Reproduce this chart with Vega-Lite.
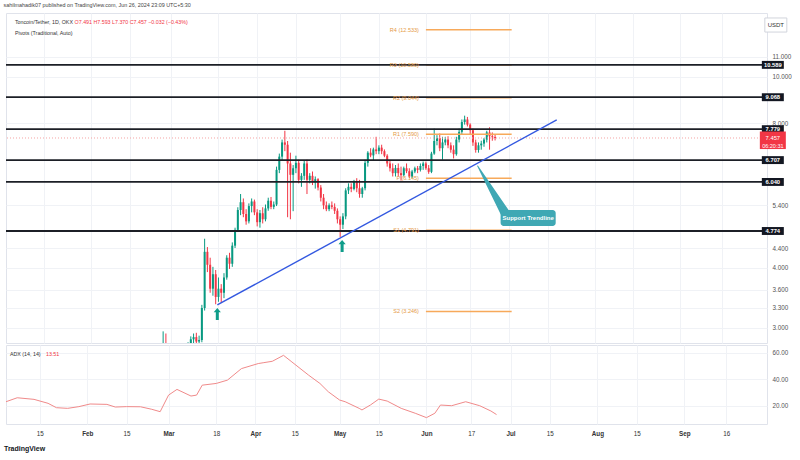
{
  "$schema": "https://vega.github.io/schema/vega-lite/v6.json",
  "background": "white",
  "padding": {"left": 3, "top": 3, "right": 0, "bottom": 0},
  "spacing": 0,
  "config": {
    "font": "Liberation Sans",
    "view": {"stroke": "#e0e3eb", "strokeWidth": 1},
    "axis": {"gridColor": "#f0f2f6", "gridWidth": 1, "labelFont": "Liberation Sans"},
    "title": {"font": "Liberation Sans"}
  },
  "title": {"text": "sahilmahadik07 published on TradingView.com, Jun 26, 2024 23:09 UTC+5:30", "anchor": "start", "fontSize": 5.4, "fontWeight": "normal", "color": "#444444", "offset": 4},
  "datasets": {
    "candles": [
      {"d":"2024-02-26","o":2.20,"h":2.34,"l":2.16,"c":2.30},
      {"d":"2024-02-27","o":2.30,"h":2.95,"l":2.26,"c":2.52},
      {"d":"2024-02-28","o":2.52,"h":2.92,"l":2.35,"c":2.48},
      {"d":"2024-02-29","o":2.48,"h":2.66,"l":2.38,"c":2.55},
      {"d":"2024-03-01","o":2.55,"h":2.74,"l":2.48,"c":2.62},
      {"d":"2024-03-02","o":2.62,"h":2.70,"l":2.52,"c":2.58},
      {"d":"2024-03-03","o":2.58,"h":2.68,"l":2.50,"c":2.64},
      {"d":"2024-03-04","o":2.64,"h":2.75,"l":2.45,"c":2.52},
      {"d":"2024-03-05","o":2.52,"h":2.70,"l":2.30,"c":2.60},
      {"d":"2024-03-06","o":2.60,"h":2.76,"l":2.55,"c":2.72},
      {"d":"2024-03-07","o":2.72,"h":2.80,"l":2.62,"c":2.74},
      {"d":"2024-03-08","o":2.74,"h":2.88,"l":2.68,"c":2.84},
      {"d":"2024-03-09","o":2.84,"h":2.92,"l":2.78,"c":2.87},
      {"d":"2024-03-10","o":2.87,"h":2.93,"l":2.79,"c":2.81},
      {"d":"2024-03-11","o":2.81,"h":2.89,"l":2.72,"c":2.83},
      {"d":"2024-03-12","o":2.83,"h":3.35,"l":2.80,"c":3.30},
      {"d":"2024-03-13","o":3.30,"h":4.60,"l":3.26,"c":4.32},
      {"d":"2024-03-14","o":4.32,"h":4.42,"l":3.92,"c":4.06},
      {"d":"2024-03-15","o":4.06,"h":4.20,"l":3.55,"c":3.62},
      {"d":"2024-03-16","o":3.62,"h":4.02,"l":3.50,"c":3.88},
      {"d":"2024-03-17","o":3.88,"h":3.96,"l":3.36,"c":3.48},
      {"d":"2024-03-18","o":3.48,"h":3.82,"l":3.40,"c":3.62},
      {"d":"2024-03-19","o":3.62,"h":3.70,"l":3.38,"c":3.55},
      {"d":"2024-03-20","o":3.55,"h":3.90,"l":3.46,"c":3.82},
      {"d":"2024-03-21","o":3.82,"h":4.25,"l":3.78,"c":4.20},
      {"d":"2024-03-22","o":4.20,"h":4.30,"l":3.98,"c":4.08},
      {"d":"2024-03-23","o":4.08,"h":4.52,"l":4.02,"c":4.45},
      {"d":"2024-03-24","o":4.45,"h":4.85,"l":4.40,"c":4.80},
      {"d":"2024-03-25","o":4.80,"h":5.35,"l":4.75,"c":5.28},
      {"d":"2024-03-26","o":5.28,"h":5.70,"l":5.15,"c":5.48},
      {"d":"2024-03-27","o":5.48,"h":5.58,"l":5.10,"c":5.18},
      {"d":"2024-03-28","o":5.18,"h":5.30,"l":4.92,"c":5.00},
      {"d":"2024-03-29","o":5.00,"h":5.45,"l":4.95,"c":5.38},
      {"d":"2024-03-30","o":5.38,"h":5.58,"l":5.22,"c":5.50},
      {"d":"2024-03-31","o":5.50,"h":5.55,"l":5.15,"c":5.22},
      {"d":"2024-04-01","o":5.22,"h":5.30,"l":4.88,"c":4.98},
      {"d":"2024-04-02","o":4.98,"h":5.28,"l":4.85,"c":5.20},
      {"d":"2024-04-03","o":5.20,"h":5.35,"l":4.95,"c":5.05},
      {"d":"2024-04-04","o":5.05,"h":5.42,"l":5.00,"c":5.32},
      {"d":"2024-04-05","o":5.32,"h":5.60,"l":5.26,"c":5.52},
      {"d":"2024-04-06","o":5.52,"h":5.62,"l":5.30,"c":5.36},
      {"d":"2024-04-07","o":5.36,"h":5.50,"l":5.30,"c":5.42},
      {"d":"2024-04-08","o":5.42,"h":6.50,"l":5.38,"c":6.40},
      {"d":"2024-04-09","o":6.40,"h":6.92,"l":6.30,"c":6.82},
      {"d":"2024-04-10","o":6.82,"h":7.40,"l":6.70,"c":7.30},
      {"d":"2024-04-11","o":7.30,"h":7.72,"l":7.00,"c":7.22},
      {"d":"2024-04-12","o":7.22,"h":7.35,"l":5.10,"c":6.60},
      {"d":"2024-04-13","o":6.60,"h":6.95,"l":5.05,"c":6.25},
      {"d":"2024-04-14","o":6.25,"h":6.55,"l":5.25,"c":6.45},
      {"d":"2024-04-15","o":6.45,"h":6.85,"l":6.30,"c":6.62},
      {"d":"2024-04-16","o":6.62,"h":6.72,"l":6.00,"c":6.10},
      {"d":"2024-04-17","o":6.10,"h":6.30,"l":5.90,"c":6.22},
      {"d":"2024-04-18","o":6.22,"h":6.70,"l":6.10,"c":6.60},
      {"d":"2024-04-19","o":6.60,"h":6.72,"l":5.70,"c":6.10},
      {"d":"2024-04-20","o":6.10,"h":6.30,"l":6.00,"c":6.22},
      {"d":"2024-04-21","o":6.22,"h":6.35,"l":5.95,"c":6.02},
      {"d":"2024-04-22","o":6.02,"h":6.20,"l":5.85,"c":6.12},
      {"d":"2024-04-23","o":6.12,"h":6.15,"l":5.80,"c":5.88},
      {"d":"2024-04-24","o":5.88,"h":5.95,"l":5.50,"c":5.60},
      {"d":"2024-04-25","o":5.60,"h":5.70,"l":5.30,"c":5.40},
      {"d":"2024-04-26","o":5.40,"h":5.50,"l":5.25,"c":5.30},
      {"d":"2024-04-27","o":5.30,"h":5.45,"l":5.25,"c":5.40},
      {"d":"2024-04-28","o":5.40,"h":5.50,"l":5.30,"c":5.36},
      {"d":"2024-04-29","o":5.36,"h":5.45,"l":5.18,"c":5.26},
      {"d":"2024-04-30","o":5.26,"h":5.32,"l":4.95,"c":5.05},
      {"d":"2024-05-01","o":5.05,"h":5.12,"l":4.64,"c":4.92},
      {"d":"2024-05-02","o":4.92,"h":5.20,"l":4.82,"c":5.12},
      {"d":"2024-05-03","o":5.12,"h":5.86,"l":5.05,"c":5.80},
      {"d":"2024-05-04","o":5.80,"h":6.00,"l":5.70,"c":5.90},
      {"d":"2024-05-05","o":5.90,"h":6.00,"l":5.75,"c":5.84},
      {"d":"2024-05-06","o":5.84,"h":6.10,"l":5.80,"c":6.04},
      {"d":"2024-05-07","o":6.04,"h":6.15,"l":5.75,"c":5.86},
      {"d":"2024-05-08","o":5.86,"h":6.10,"l":5.60,"c":5.70},
      {"d":"2024-05-09","o":5.70,"h":5.90,"l":5.60,"c":5.86},
      {"d":"2024-05-10","o":5.86,"h":6.72,"l":5.80,"c":6.62},
      {"d":"2024-05-11","o":6.62,"h":7.00,"l":6.50,"c":6.95},
      {"d":"2024-05-12","o":6.95,"h":7.10,"l":6.80,"c":6.86},
      {"d":"2024-05-13","o":6.86,"h":7.12,"l":6.70,"c":7.06},
      {"d":"2024-05-14","o":7.06,"h":7.50,"l":6.90,"c":7.00},
      {"d":"2024-05-15","o":7.00,"h":7.20,"l":6.90,"c":7.12},
      {"d":"2024-05-16","o":7.12,"h":7.22,"l":6.90,"c":7.00},
      {"d":"2024-05-17","o":7.00,"h":7.06,"l":6.80,"c":6.85},
      {"d":"2024-05-18","o":6.85,"h":6.90,"l":6.50,"c":6.60},
      {"d":"2024-05-19","o":6.60,"h":6.70,"l":6.35,"c":6.45},
      {"d":"2024-05-20","o":6.45,"h":6.60,"l":6.20,"c":6.30},
      {"d":"2024-05-21","o":6.30,"h":6.55,"l":6.20,"c":6.46},
      {"d":"2024-05-22","o":6.46,"h":6.60,"l":6.20,"c":6.30},
      {"d":"2024-05-23","o":6.30,"h":6.50,"l":6.08,"c":6.24},
      {"d":"2024-05-24","o":6.24,"h":6.50,"l":6.20,"c":6.45},
      {"d":"2024-05-25","o":6.45,"h":6.60,"l":6.30,"c":6.36},
      {"d":"2024-05-26","o":6.36,"h":6.45,"l":6.15,"c":6.20},
      {"d":"2024-05-27","o":6.20,"h":6.40,"l":6.15,"c":6.35},
      {"d":"2024-05-28","o":6.35,"h":6.50,"l":6.30,"c":6.45},
      {"d":"2024-05-29","o":6.45,"h":6.52,"l":6.30,"c":6.40},
      {"d":"2024-05-30","o":6.40,"h":6.60,"l":6.35,"c":6.52},
      {"d":"2024-05-31","o":6.52,"h":6.66,"l":6.40,"c":6.60},
      {"d":"2024-06-01","o":6.60,"h":6.66,"l":6.40,"c":6.45},
      {"d":"2024-06-02","o":6.45,"h":6.55,"l":6.28,"c":6.34},
      {"d":"2024-06-03","o":6.34,"h":6.98,"l":6.30,"c":6.92},
      {"d":"2024-06-04","o":6.92,"h":7.80,"l":6.88,"c":7.35},
      {"d":"2024-06-05","o":7.35,"h":7.56,"l":7.20,"c":7.45},
      {"d":"2024-06-06","o":7.45,"h":7.62,"l":7.00,"c":7.10},
      {"d":"2024-06-07","o":7.10,"h":7.50,"l":6.72,"c":7.30},
      {"d":"2024-06-08","o":7.30,"h":7.50,"l":7.20,"c":7.40},
      {"d":"2024-06-09","o":7.40,"h":7.52,"l":7.10,"c":7.20},
      {"d":"2024-06-10","o":7.20,"h":7.30,"l":6.95,"c":7.05},
      {"d":"2024-06-11","o":7.05,"h":7.20,"l":6.76,"c":6.90},
      {"d":"2024-06-12","o":6.90,"h":7.50,"l":6.85,"c":7.40},
      {"d":"2024-06-13","o":7.40,"h":7.80,"l":7.30,"c":7.68},
      {"d":"2024-06-14","o":7.68,"h":8.15,"l":7.60,"c":8.05},
      {"d":"2024-06-15","o":8.05,"h":8.30,"l":7.95,"c":8.15},
      {"d":"2024-06-16","o":8.15,"h":8.25,"l":7.88,"c":7.95},
      {"d":"2024-06-17","o":7.95,"h":8.00,"l":7.60,"c":7.74},
      {"d":"2024-06-18","o":7.74,"h":7.80,"l":7.18,"c":7.30},
      {"d":"2024-06-19","o":7.30,"h":7.40,"l":6.95,"c":7.04},
      {"d":"2024-06-20","o":7.04,"h":7.30,"l":6.95,"c":7.20},
      {"d":"2024-06-21","o":7.20,"h":7.36,"l":7.05,"c":7.26},
      {"d":"2024-06-22","o":7.26,"h":7.46,"l":7.15,"c":7.40},
      {"d":"2024-06-23","o":7.40,"h":7.72,"l":7.30,"c":7.66},
      {"d":"2024-06-24","o":7.66,"h":7.85,"l":7.05,"c":7.52},
      {"d":"2024-06-25","o":7.52,"h":7.66,"l":7.36,"c":7.49},
      {"d":"2024-06-26","o":7.491,"h":7.593,"l":7.370,"c":7.457}
    ],
    "adx": [
      {"d":"2024-01-03","v":23.2},{"d":"2024-01-07","v":26.2},{"d":"2024-01-13","v":25.0},
      {"d":"2024-01-18","v":22.0},{"d":"2024-01-21","v":18.7},{"d":"2024-01-25","v":18.2},
      {"d":"2024-01-29","v":19.5},{"d":"2024-02-02","v":21.5},{"d":"2024-02-08","v":21.2},
      {"d":"2024-02-11","v":19.2},{"d":"2024-02-15","v":19.5},{"d":"2024-02-20","v":19.4},
      {"d":"2024-02-24","v":17.5},{"d":"2024-02-27","v":15.7},{"d":"2024-03-01","v":28.2},
      {"d":"2024-03-04","v":32.5},{"d":"2024-03-09","v":27.5},{"d":"2024-03-11","v":28.2},
      {"d":"2024-03-13","v":35.7},{"d":"2024-03-18","v":37.0},{"d":"2024-03-22","v":39.5},
      {"d":"2024-03-27","v":48.2},{"d":"2024-04-02","v":52.0},{"d":"2024-04-04","v":52.7},
      {"d":"2024-04-07","v":53.7},{"d":"2024-04-11","v":58.2},{"d":"2024-04-14","v":53.2},
      {"d":"2024-04-20","v":43.2},{"d":"2024-04-24","v":37.0},{"d":"2024-04-27","v":30.7},
      {"d":"2024-05-01","v":24.5},{"d":"2024-05-03","v":23.2},{"d":"2024-05-08","v":18.2},
      {"d":"2024-05-09","v":17.0},{"d":"2024-05-12","v":20.7},{"d":"2024-05-15","v":25.2},
      {"d":"2024-05-18","v":23.7},{"d":"2024-05-23","v":18.2},{"d":"2024-05-28","v":14.5},
      {"d":"2024-06-01","v":11.2},{"d":"2024-06-04","v":14.5},{"d":"2024-06-06","v":20.7},
      {"d":"2024-06-10","v":20.2},{"d":"2024-06-15","v":23.2},{"d":"2024-06-20","v":20.2},
      {"d":"2024-06-24","v":16.2},{"d":"2024-06-26","v":13.51}
    ],
    "levels": [
      {"v":10.589,"label":"10.589"},{"v":9.068,"label":"9.068"},{"v":7.779,"label":"7.779"},
      {"v":6.707,"label":"6.707"},{"v":6.04,"label":"6.040"},{"v":4.774,"label":"4.774"}
    ],
    "pivots": [
      {"v":12.533,"label":"R4 (12.533)"},{"v":10.58,"label":"R3 (10.580)"},{"v":9.044,"label":"R2 (9.044)"},
      {"v":7.59,"label":"R1 (7.590)"},{"v":6.145,"label":"P (6.145)"},{"v":4.791,"label":"S1 (4.791)"},
      {"v":3.246,"label":"S2 (3.246)"}
    ],
    "trend": [{"d":"2024-03-17T14:00:00Z","p":3.348},{"d":"2024-07-18T07:00:00Z","p":8.13}],
    "arrows": [{"d":"2024-03-17T14:00:00Z","p":3.206},{"d":"2024-05-01T17:00:00Z","p":4.44}],
    "pointer": [{"d":"2024-06-19T17:00:00Z","p":6.52,"end":"tip"},{"d":"2024-06-29T10:00:00Z","p":5.23,"end":"base"}],
    "callout": [{"d":"2024-06-28T00:00:00Z","d2":"2024-07-17T22:00:00Z","p":5.28,"p2":4.89,"dm":"2024-07-07T23:00:00Z","pm":5.08,"text":"Support Trendline"}],
    "last": [{"v":7.457,"t1":"7.457","t2":"06:20:31"}]
  },
  "vconcat": [
    {
      "width": 761,
      "height": 330,
      "layer": [
        {
          "data": {"name": "candles"},
          "mark": {"type": "rule", "strokeWidth": 1, "clip": true},
          "encoding": {
            "x": {"field": "d", "type": "temporal",
              "scale": {"domain": [{"year":2024,"month":1,"date":3,"utc":true},{"year":2024,"month":9,"date":30,"hours":12,"utc":true}]},
              "axis": {"labels": false, "ticks": false, "domain": false, "title": null, "grid": true, "gridColor": "#f0f2f6",
                "values": [{"year":2024,"month":1,"date":15,"utc":true},{"year":2024,"month":2,"date":1,"utc":true},{"year":2024,"month":2,"date":15,"utc":true},{"year":2024,"month":3,"date":1,"utc":true},{"year":2024,"month":3,"date":18,"utc":true},{"year":2024,"month":4,"date":1,"utc":true},{"year":2024,"month":4,"date":15,"utc":true},{"year":2024,"month":5,"date":1,"utc":true},{"year":2024,"month":5,"date":15,"utc":true},{"year":2024,"month":6,"date":1,"utc":true},{"year":2024,"month":6,"date":17,"utc":true},{"year":2024,"month":7,"date":1,"utc":true},{"year":2024,"month":7,"date":15,"utc":true},{"year":2024,"month":8,"date":1,"utc":true},{"year":2024,"month":8,"date":15,"utc":true},{"year":2024,"month":9,"date":1,"utc":true},{"year":2024,"month":9,"date":16,"utc":true}]}},
            "y": {"field": "l", "type": "quantitative",
              "scale": {"type": "log", "domain": [2.79, 13.58], "nice": false, "zero": false},
              "axis": {"orient": "right", "values": [3, 3.3, 3.6, 4, 4.4, 5.4, 8, 10, 11], "format": ".3f", "title": null, "ticks": false, "domain": false, "labelFontSize": 6.3, "labelColor": "#555555", "labelPadding": 5, "labelOverlap": false, "grid": true, "gridColor": "#f0f2f6"}},
            "y2": {"field": "h"},
            "color": {"condition": {"test": "datum.c >= datum.o", "value": "#089981"}, "value": "#f23645"}
          }
        },
        {
          "data": {"name": "candles"},
          "mark": {"type": "bar", "size": 2, "clip": true},
          "encoding": {
            "x": {"field": "d", "type": "temporal", "scale": {"domain": [{"year":2024,"month":1,"date":3,"utc":true},{"year":2024,"month":9,"date":30,"hours":12,"utc":true}]}},
            "y": {"field": "o", "type": "quantitative", "scale": {"type": "log", "domain": [2.79, 13.58], "nice": false, "zero": false}},
            "y2": {"field": "c"},
            "color": {"condition": {"test": "datum.c >= datum.o", "value": "#089981"}, "value": "#f23645"}
          }
        },
        {
          "data": {"name": "last"},
          "mark": {"type": "rule", "color": "#f5a3a3", "strokeDash": [1, 2], "strokeWidth": 1},
          "encoding": {
            "y": {"field": "v", "type": "quantitative", "scale": {"type": "log", "domain": [2.79, 13.58], "nice": false, "zero": false}}
          }
        },
        {
          "data": {"name": "pivots"},
          "mark": {"type": "rule", "color": "#f7a95a", "strokeWidth": 1.5},
          "encoding": {
            "x": {"datum": {"year":2024,"month":6,"date":1,"utc":true}, "type": "temporal", "scale": {"domain": [{"year":2024,"month":1,"date":3,"utc":true},{"year":2024,"month":9,"date":30,"hours":12,"utc":true}]}},
            "x2": {"datum": {"year":2024,"month":7,"date":2,"utc":true}},
            "y": {"field": "v", "type": "quantitative", "scale": {"type": "log", "domain": [2.79, 13.58], "nice": false, "zero": false}}
          }
        },
        {
          "data": {"name": "levels"},
          "mark": {"type": "rule", "color": "#1c1f26", "strokeWidth": 1.8},
          "encoding": {
            "y": {"field": "v", "type": "quantitative", "scale": {"type": "log", "domain": [2.79, 13.58], "nice": false, "zero": false}}
          }
        },
        {
          "data": {"name": "pivots"},
          "mark": {"type": "text", "align": "right", "baseline": "middle", "dx": -7, "fontSize": 5.5, "color": "#e59a45"},
          "encoding": {
            "x": {"datum": {"year":2024,"month":6,"date":1,"utc":true}, "type": "temporal", "scale": {"domain": [{"year":2024,"month":1,"date":3,"utc":true},{"year":2024,"month":9,"date":30,"hours":12,"utc":true}]}},
            "y": {"field": "v", "type": "quantitative", "scale": {"type": "log", "domain": [2.79, 13.58], "nice": false, "zero": false}},
            "text": {"field": "label"}
          }
        },
        {
          "data": {"name": "trend"},
          "mark": {"type": "line", "color": "#3358e0", "strokeWidth": 1.4},
          "encoding": {
            "x": {"field": "d", "type": "temporal", "scale": {"domain": [{"year":2024,"month":1,"date":3,"utc":true},{"year":2024,"month":9,"date":30,"hours":12,"utc":true}]}},
            "y": {"field": "p", "type": "quantitative", "scale": {"type": "log", "domain": [2.79, 13.58], "nice": false, "zero": false}}
          }
        },
        {
          "data": {"name": "pointer"},
          "mark": {"type": "trail", "color": "#3fa8b4"},
          "encoding": {
            "x": {"field": "d", "type": "temporal", "scale": {"domain": [{"year":2024,"month":1,"date":3,"utc":true},{"year":2024,"month":9,"date":30,"hours":12,"utc":true}]}},
            "y": {"field": "p", "type": "quantitative", "scale": {"type": "log", "domain": [2.79, 13.58], "nice": false, "zero": false}},
            "size": {"field": "end", "type": "ordinal", "scale": {"domain": ["tip", "base"], "range": [1, 9]}, "legend": null}
          }
        },
        {
          "data": {"name": "callout"},
          "mark": {"type": "rect", "color": "#3fa8b4", "cornerRadius": 3},
          "encoding": {
            "x": {"field": "d", "type": "temporal", "scale": {"domain": [{"year":2024,"month":1,"date":3,"utc":true},{"year":2024,"month":9,"date":30,"hours":12,"utc":true}]}},
            "x2": {"field": "d2"},
            "y": {"field": "p", "type": "quantitative", "scale": {"type": "log", "domain": [2.79, 13.58], "nice": false, "zero": false}},
            "y2": {"field": "p2"}
          }
        },
        {
          "data": {"name": "callout"},
          "mark": {"type": "text", "color": "white", "fontSize": 6, "fontWeight": "bold", "align": "center", "baseline": "middle"},
          "encoding": {
            "x": {"field": "dm", "type": "temporal", "scale": {"domain": [{"year":2024,"month":1,"date":3,"utc":true},{"year":2024,"month":9,"date":30,"hours":12,"utc":true}]}},
            "y": {"field": "pm", "type": "quantitative", "scale": {"type": "log", "domain": [2.79, 13.58], "nice": false, "zero": false}},
            "text": {"field": "text"}
          }
        },
        {
          "data": {"name": "arrows"},
          "mark": {"type": "point", "shape": "M0,-1L0.6,-0.3L0.25,-0.3L0.25,1L-0.25,1L-0.25,-0.3L-0.6,-0.3Z", "filled": true, "size": 144, "color": "#0f9d8a", "opacity": 1},
          "encoding": {
            "x": {"field": "d", "type": "temporal", "scale": {"domain": [{"year":2024,"month":1,"date":3,"utc":true},{"year":2024,"month":9,"date":30,"hours":12,"utc":true}]}},
            "y": {"field": "p", "type": "quantitative", "scale": {"type": "log", "domain": [2.79, 13.58], "nice": false, "zero": false}}
          }
        },
        {
          "data": {"name": "levels"},
          "mark": {"type": "point", "shape": "M-1,-0.36L1,-0.36L1,0.36L-1,0.36Z", "filled": true, "size": 484, "color": "#131722", "opacity": 1},
          "encoding": {
            "x": {"datum": {"year":2024,"month":10,"date":4,"hours":10,"utc":true}, "type": "temporal", "scale": {"domain": [{"year":2024,"month":1,"date":3,"utc":true},{"year":2024,"month":9,"date":30,"hours":12,"utc":true}]}},
            "y": {"field": "v", "type": "quantitative", "scale": {"type": "log", "domain": [2.79, 13.58], "nice": false, "zero": false}}
          }
        },
        {
          "data": {"name": "levels"},
          "mark": {"type": "text", "color": "white", "fontSize": 5.8, "fontWeight": "bold", "align": "center", "baseline": "middle"},
          "encoding": {
            "x": {"datum": {"year":2024,"month":10,"date":4,"hours":10,"utc":true}, "type": "temporal", "scale": {"domain": [{"year":2024,"month":1,"date":3,"utc":true},{"year":2024,"month":9,"date":30,"hours":12,"utc":true}]}},
            "y": {"field": "v", "type": "quantitative", "scale": {"type": "log", "domain": [2.79, 13.58], "nice": false, "zero": false}},
            "text": {"field": "label"}
          }
        },
        {
          "data": {"name": "last"},
          "mark": {"type": "point", "shape": "M-1,-0.5L1,-0.5L1,0.85L-1,0.85Z", "filled": true, "size": 676, "color": "#f23645", "opacity": 1},
          "encoding": {
            "x": {"datum": {"year":2024,"month":10,"date":4,"hours":10,"utc":true}, "type": "temporal", "scale": {"domain": [{"year":2024,"month":1,"date":3,"utc":true},{"year":2024,"month":9,"date":30,"hours":12,"utc":true}]}},
            "y": {"field": "v", "type": "quantitative", "scale": {"type": "log", "domain": [2.79, 13.58], "nice": false, "zero": false}}
          }
        },
        {
          "data": {"name": "last"},
          "mark": {"type": "text", "color": "white", "fontSize": 5.8, "align": "center", "baseline": "middle"},
          "encoding": {
            "x": {"datum": {"year":2024,"month":10,"date":4,"hours":10,"utc":true}, "type": "temporal", "scale": {"domain": [{"year":2024,"month":1,"date":3,"utc":true},{"year":2024,"month":9,"date":30,"hours":12,"utc":true}]}},
            "y": {"field": "v", "type": "quantitative", "scale": {"type": "log", "domain": [2.79, 13.58], "nice": false, "zero": false}},
            "text": {"field": "t1"}
          }
        },
        {
          "data": {"name": "last"},
          "mark": {"type": "text", "color": "white", "fontSize": 5.5, "align": "center", "baseline": "middle", "dy": 8},
          "encoding": {
            "x": {"datum": {"year":2024,"month":10,"date":4,"hours":10,"utc":true}, "type": "temporal", "scale": {"domain": [{"year":2024,"month":1,"date":3,"utc":true},{"year":2024,"month":9,"date":30,"hours":12,"utc":true}]}},
            "y": {"field": "v", "type": "quantitative", "scale": {"type": "log", "domain": [2.79, 13.58], "nice": false, "zero": false}},
            "text": {"field": "t2"}
          }
        },
        {
          "data": {"values": [{"p": 12.82, "t": "USDT"}]},
          "mark": {"type": "point", "shape": "M-1,-0.64L1,-0.64L1,0.64L-1,0.64Z", "filled": false, "size": 484, "stroke": "#d1d4dc", "strokeWidth": 1, "fill": "white", "opacity": 1},
          "encoding": {
            "x": {"datum": {"year":2024,"month":10,"date":5,"hours":12,"utc":true}, "type": "temporal", "scale": {"domain": [{"year":2024,"month":1,"date":3,"utc":true},{"year":2024,"month":9,"date":30,"hours":12,"utc":true}]}},
            "y": {"field": "p", "type": "quantitative", "scale": {"type": "log", "domain": [2.79, 13.58], "nice": false, "zero": false}}
          }
        },
        {
          "data": {"values": [{"p": 12.82, "t": "USDT"}]},
          "mark": {"type": "text", "color": "#333333", "fontSize": 6, "align": "center", "baseline": "middle"},
          "encoding": {
            "x": {"datum": {"year":2024,"month":10,"date":5,"hours":12,"utc":true}, "type": "temporal", "scale": {"domain": [{"year":2024,"month":1,"date":3,"utc":true},{"year":2024,"month":9,"date":30,"hours":12,"utc":true}]}},
            "y": {"field": "p", "type": "quantitative", "scale": {"type": "log", "domain": [2.79, 13.58], "nice": false, "zero": false}},
            "text": {"field": "t"}
          }
        },
        {
          "data": {"values": [{"p": 13.0, "t": "Toncoin/Tether, 1D, OKX"}, {"p": 12.34, "t": "Pivots (Traditional, Auto)"}]},
          "mark": {"type": "text", "color": "#333333", "fontSize": 5.3, "align": "left", "baseline": "middle"},
          "encoding": {
            "x": {"datum": {"year":2024,"month":1,"date":4,"hours":10,"utc":true}, "type": "temporal", "scale": {"domain": [{"year":2024,"month":1,"date":3,"utc":true},{"year":2024,"month":9,"date":30,"hours":12,"utc":true}]}},
            "y": {"field": "p", "type": "quantitative", "scale": {"type": "log", "domain": [2.79, 13.58], "nice": false, "zero": false}},
            "text": {"field": "t"}
          }
        },
        {
          "data": {"values": [{"p": 13.0, "t": "O7.491 H7.593 L7.370 C7.457 −0.032 (−0.43%)"}]},
          "mark": {"type": "text", "color": "#f23645", "fontSize": 5.3, "align": "left", "baseline": "middle"},
          "encoding": {
            "x": {"datum": {"year":2024,"month":1,"date":26,"hours":0,"utc":true}, "type": "temporal", "scale": {"domain": [{"year":2024,"month":1,"date":3,"utc":true},{"year":2024,"month":9,"date":30,"hours":12,"utc":true}]}},
            "y": {"field": "p", "type": "quantitative", "scale": {"type": "log", "domain": [2.79, 13.58], "nice": false, "zero": false}},
            "text": {"field": "t"}
          }
        }
      ]
    },
    {
      "width": 761,
      "height": 79,
      "title": {"text": "TradingView", "orient": "bottom", "anchor": "start", "fontSize": 7, "fontWeight": "bold", "color": "#131722", "offset": 9},
      "layer": [
        {
          "data": {"name": "adx"},
          "mark": {"type": "line", "color": "#f08a8a", "strokeWidth": 1},
          "encoding": {
            "x": {"field": "d", "type": "temporal",
              "scale": {"domain": [{"year":2024,"month":1,"date":3,"utc":true},{"year":2024,"month":9,"date":30,"hours":12,"utc":true}]},
              "axis": {"title": null, "ticks": false, "domain": false, "grid": true, "gridColor": "#f0f2f6", "labelFontSize": 6.3, "labelColor": "#333333", "labelPadding": 6, "labelOverlap": false,
                "labelExpr": "utcdate(datum.value) == 1 ? utcFormat(datum.value, '%b') : utcFormat(datum.value, '%-d')",
                "labelFontWeight": {"condition": {"test": "utcdate(datum.value) == 1", "value": "bold"}, "value": "normal"},
                "values": [{"year":2024,"month":1,"date":15,"utc":true},{"year":2024,"month":2,"date":1,"utc":true},{"year":2024,"month":2,"date":15,"utc":true},{"year":2024,"month":3,"date":1,"utc":true},{"year":2024,"month":3,"date":18,"utc":true},{"year":2024,"month":4,"date":1,"utc":true},{"year":2024,"month":4,"date":15,"utc":true},{"year":2024,"month":5,"date":1,"utc":true},{"year":2024,"month":5,"date":15,"utc":true},{"year":2024,"month":6,"date":1,"utc":true},{"year":2024,"month":6,"date":17,"utc":true},{"year":2024,"month":7,"date":1,"utc":true},{"year":2024,"month":7,"date":15,"utc":true},{"year":2024,"month":8,"date":1,"utc":true},{"year":2024,"month":8,"date":15,"utc":true},{"year":2024,"month":9,"date":1,"utc":true},{"year":2024,"month":9,"date":16,"utc":true}]}},
            "y": {"field": "v", "type": "quantitative",
              "scale": {"domain": [6.4, 66], "nice": false, "zero": false},
              "axis": {"orient": "right", "tickCount": 3, "format": ".2f", "title": null, "ticks": false, "domain": false, "labelFontSize": 6.3, "labelColor": "#555555", "labelPadding": 5, "labelOverlap": false, "labelFlush": false, "grid": true, "gridColor": "#f0f2f6"}}
          }
        },
        {
          "data": {"values": [{"v": 59, "t": "ADX (14, 14)"}]},
          "mark": {"type": "text", "color": "#333333", "fontSize": 5.3, "align": "left", "baseline": "middle"},
          "encoding": {
            "x": {"datum": {"year":2024,"month":1,"date":4,"hours":10,"utc":true}, "type": "temporal", "scale": {"domain": [{"year":2024,"month":1,"date":3,"utc":true},{"year":2024,"month":9,"date":30,"hours":12,"utc":true}]}},
            "y": {"field": "v", "type": "quantitative", "scale": {"domain": [6.4, 66], "nice": false, "zero": false}},
            "text": {"field": "t"}
          }
        },
        {
          "data": {"values": [{"v": 59, "t": "13.51"}]},
          "mark": {"type": "text", "color": "#f23645", "fontSize": 5.3, "align": "left", "baseline": "middle"},
          "encoding": {
            "x": {"datum": {"year":2024,"month":1,"date":17,"hours":6,"utc":true}, "type": "temporal", "scale": {"domain": [{"year":2024,"month":1,"date":3,"utc":true},{"year":2024,"month":9,"date":30,"hours":12,"utc":true}]}},
            "y": {"field": "v", "type": "quantitative", "scale": {"domain": [6.4, 66], "nice": false, "zero": false}},
            "text": {"field": "t"}
          }
        }
      ]
    }
  ]
}
